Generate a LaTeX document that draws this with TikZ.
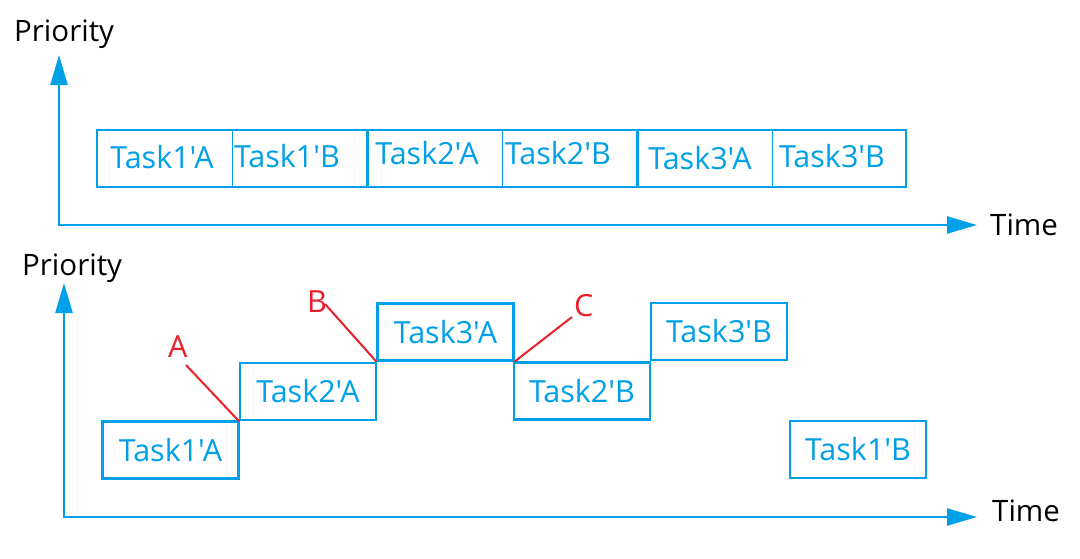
\documentclass[tikz,border=0pt]{standalone}
\usepackage{fontspec}
\setmainfont{Open Sans}[Ligatures=TeXOff]
\usetikzlibrary{arrows.meta}
\definecolor{tblue}{HTML}{00A0E9}
\definecolor{tred}{HTML}{E8202A}
\begin{document}
\begin{tikzpicture}[x=1pt,y=-1pt,
  axisline/.style={draw=tblue, line width=2.5pt,
    {Triangle[length=30pt,width=17pt]}-{Triangle[length=30pt,width=17pt]}},
  bigfont/.style={font=\fontsize{30.5}{35}\selectfont},
  taskbox/.style={draw=tblue, line width=2.2pt, minimum width=136pt,
    minimum height=57pt, inner sep=0pt, text=tblue, bigfont},
  tasktext/.style={text=tblue, bigfont, anchor=base, inner sep=0pt},
  axislabel/.style={text=black, font=\fontsize{29.5}{35}\selectfont, anchor=base west, inner sep=0pt},
  redlabel/.style={text=tred, bigfont, anchor=base west, inner sep=0pt},
  redline/.style={draw=tred, line width=2pt},
  thindiv/.style={draw=tblue, line width=1pt},
  thickdiv/.style={draw=tblue, line width=3pt}]
\useasboundingbox (0,0) rectangle (1080,558);
\fill[white] (0,0) rectangle (1080,558);

% ---------- top diagram ----------
\coordinate (o1) at (59,225);
\coordinate (yt1) at (59,55);
\coordinate (xt1) at (977,225);
\draw[axisline] (yt1) -- (o1) -- (xt1);
\node[axislabel] (prio1) at (14,41) {Priority};
\node[axislabel] (time1) at (990,235) {Time};

\node[draw=tblue, line width=2.5pt, minimum width=809pt, minimum height=57pt,
  inner sep=0pt] (topbar) at (501.5,158.5) {};
\draw[thindiv] (232,130) -- (232,187);
\draw[thickdiv] (367,130) -- (367,187);
\draw[thindiv] (502,130) -- (502,187);
\draw[thickdiv] (637,130) -- (637,187);
\draw[thindiv] (772,130) -- (772,187);

\node[tasktext] (ta1) at (162,168) {Task1'A};
\node[tasktext] (tb1) at (287,167) {Task1'B};
\node[tasktext] (ta2) at (427,164) {Task2'A};
\node[tasktext] (tb2) at (558,164) {Task2'B};
\node[tasktext] (ta3) at (700,169) {Task3'A};
\node[tasktext] (tb3) at (832,167) {Task3'B};

% ---------- bottom diagram ----------
\coordinate (o2) at (64,517);
\coordinate (yt2) at (64,283);
\coordinate (xt2) at (977,517);
\draw[axisline] (yt2) -- (o2) -- (xt2);
\node[axislabel] (prio2) at (22,275) {Priority};
\node[axislabel] (time2) at (992,521) {Time};

\node[taskbox] (t1a) at (170.5,450) {Task1'A};
\node[taskbox] (t2a) at (308,391.5) {Task2'A};
\node[taskbox] (t3a) at (445.5,332) {Task3'A};
\node[taskbox] (t2b) at (582,391) {Task2'B};
\node[taskbox] (t3b) at (719,331.5) {Task3'B};
\node[taskbox] (t1b) at (858,449.5) {Task1'B};

\node[redlabel] (la) at (168,357) {A};
\node[redlabel] (lb) at (307,312) {B};
\node[redlabel] (lc) at (574,316) {C};
\coordinate (la0) at (186,365);
\coordinate (lb0) at (325,304);
\coordinate (lc0) at (572,317);
\draw[redline] (la0) -- (t2a.south west);
\draw[redline] (lb0) -- (t3a.south west);
\draw[redline] (lc0) -- (t3a.south east);
\end{tikzpicture}
\end{document}
